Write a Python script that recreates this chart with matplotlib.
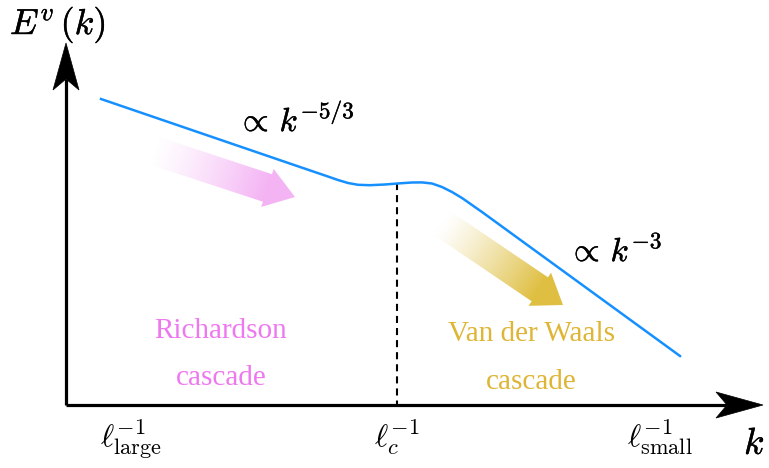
import numpy as np
import matplotlib.pyplot as plt
import matplotlib.patheffects as pe
from matplotlib.patches import Polygon
from matplotlib.colors import to_rgb

plt.rcParams['mathtext.fontset'] = 'cm'

# schematic spectrum, in canvas units (x to the right, y downwards)
k_curve = [101, 300, 325, 338, 348, 358, 370, 385, 400, 412, 422, 432, 442, 452, 462, 472, 482, 680]
E_curve = [99, 167, 175.5, 180, 183, 184.8, 185.2, 184.5, 183.3, 182.5, 182.4, 183.5, 187, 192, 198, 205, 212, 356]

k_c = 397
E_c = 183.4
origin = (66, 405)
x_tip = 763
y_tip = 43

tick_pos = [131, 397, 660]
tick_labels = [r'$\ell^{-1}_{\mathrm{large}}$', r'$\ell_c^{-1}$', r'$\ell^{-1}_{\mathrm{small}}$']

pink = '#f4b4f4'
gold = '#dfbf42'
pink_text = '#ee78ee'
gold_text = '#dfb535'
blue = '#1690ff'

heavy = [pe.withStroke(linewidth=0.3, foreground='k')]


def axis_arrow(ax, start, end, head_len=47, half_w=13, notch=11, lw=2.3):
    start = np.asarray(start, float)
    end = np.asarray(end, float)
    u = (end - start) / np.linalg.norm(end - start)
    n = np.array([-u[1], u[0]])
    back = end - u * head_len
    ax.plot([start[0], (end - u * (head_len - notch))[0]],
            [start[1], (end - u * (head_len - notch))[1]],
            color='k', lw=lw, solid_capstyle='butt')
    verts = [end, back + n * half_w, end - u * (head_len - notch), back - n * half_w]
    ax.add_patch(Polygon(verts, closed=True, fc='k', ec='k', lw=0.5))


def gradient_arrow(ax, tail, tip, body_w, head_w, head_l, color):
    tail = np.asarray(tail, float)
    tip = np.asarray(tip, float)
    length = np.linalg.norm(tip - tail)
    u = (tip - tail) / length
    n = np.array([-u[1], u[0]])
    base = tip - u * head_l
    verts = [tail + n * body_w / 2, base + n * body_w / 2, base + n * head_w / 2, tip,
             base - n * head_w / 2, base - n * body_w / 2, tail - n * body_w / 2]
    poly = Polygon(verts, closed=True, fc='none', ec='none')
    ax.add_patch(poly)
    xs = np.array([v[0] for v in verts])
    ys = np.array([v[1] for v in verts])
    x0, x1, y0, y1 = xs.min() - 2, xs.max() + 2, ys.min() - 2, ys.max() + 2
    gx, gy = np.meshgrid(np.linspace(x0, x1, 300), np.linspace(y0, y1, 300))
    t = ((gx - tail[0]) * u[0] + (gy - tail[1]) * u[1]) / length
    t = np.clip(t / 0.8, 0, 1) ** 1.2
    c = np.array(to_rgb(color))
    img = np.ones(gx.shape + (3,)) - (1 - c)[None, None, :] * t[..., None]
    im = ax.imshow(img, origin='lower', extent=(x0, x1, y0, y1), aspect='auto',
                   interpolation='bilinear', zorder=1)
    im.set_clip_path(poly)


fig = plt.figure(figsize=(7.69, 4.68), dpi=100)
ax = fig.add_axes([0, 0, 1, 1])
ax.axis('off')

# cascade arrows
gradient_arrow(ax, (155, 151), (295, 197), 29, 40, 29, pink)
gradient_arrow(ax, (442, 223), (563, 305), 29, 40, 28, gold)

# spectrum
ax.plot(k_curve, E_curve, color=blue, lw=1.8, solid_joinstyle='round', zorder=3)
ax.plot([k_c, k_c], [E_c, origin[1]], color='k', lw=1.5, dashes=(3.4, 2.4), zorder=2)

# axes
axis_arrow(ax, origin, (origin[0], y_tip))
axis_arrow(ax, origin, (x_tip, origin[1]))

ax.text(10, 34, r'$E^v\,(k)$', fontsize=26, ha='left', va='baseline', path_effects=heavy)
ax.text(744, 454, r'$k$', fontsize=27, ha='left', va='baseline', path_effects=heavy)
ax.text(237, 131, r'$\propto\,k^{-5/3}$', fontsize=24, ha='left', va='baseline', path_effects=heavy)
ax.text(568, 261, r'$\propto\,k^{-3}$', fontsize=24, ha='left', va='baseline', path_effects=heavy)

for xp, lab in zip(tick_pos, tick_labels):
    ax.text(xp, 447, lab, fontsize=23, ha='center', va='baseline')

ax.text(221, 331, 'Richardson', color=pink_text, fontsize=21,
        family='Liberation Serif', ha='center', va='center')
ax.text(221, 378, 'cascade', color=pink_text, fontsize=21,
        family='Liberation Serif', ha='center', va='center')
ax.text(531, 334, 'Van der Waals', color=gold_text, fontsize=21,
        family='Liberation Serif', ha='center', va='center')
ax.text(531, 382, 'cascade', color=gold_text, fontsize=21,
        family='Liberation Serif', ha='center', va='center')

ax.set_xlim(0, 769)
ax.set_ylim(468, 0)
fig.savefig('out.png', dpi=100)
